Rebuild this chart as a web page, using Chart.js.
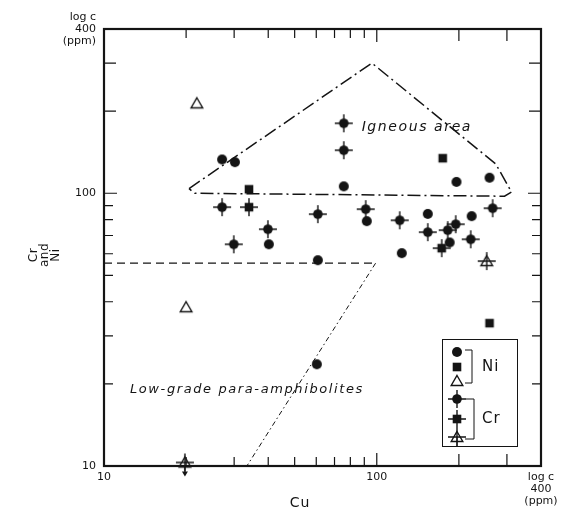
<!DOCTYPE html>
<html>
<head>
<meta charset="utf-8">
<script src="https://cdn.jsdelivr.net/npm/chart.js@4/dist/chart.umd.min.js"></script>
<style>
  html, body { margin: 0; padding: 0; background: #fff; }
  #wrap { width: 570px; height: 513px; }
</style>
</head>
<body>
<div id="wrap"><canvas id="chart" width="570" height="513"></canvas></div>
<script>
// Ni symbols (Cu ppm, Ni ppm)
const niCircleCu = [27.1, 30.2, 75.7, 196, 259, 91.9, 153.8, 222.8, 185, 123.5, 40.2, 60.8, 60.3];
const niCircleVal = [133, 130, 106, 110, 114, 79, 84, 82.4, 66, 60.3, 65, 56.8, 23.6];
const niSquareCu = [174.5, 34.0, 259];
const niSquareVal = [134.4, 103.4, 33.4];
const niTriCu = [21.9, 20.0];
const niTriVal = [213.6, 38.2];

// Cr symbols (Cu ppm, Cr ppm)
const crCircleCu = [75.7, 75.7, 27.1, 60.8, 91.1, 39.9, 29.9, 121.4, 153.8, 182, 194.7, 221, 266];
const crCircleVal = [180.5, 143.8, 88.9, 83.8, 87.4, 73.8, 65.0, 79.6, 72.0, 73.2, 77.0, 67.8, 88.1];
const crSquareCu = [34.0, 173];
const crSquareVal = [88.9, 62.9];
const crTriCu = [252.9, 19.8];
const crTriVal = [56.4, 10.3];

// field boundaries
const igneousCu = [20.5, 96, 273, 312, 294, 21.5, 20.5];
const igneousVal = [104, 300, 128, 101, 97.5, 100, 104];
const lowGradeCu = [10, 99];
const lowGradeVal = [55.4, 55.4];
const diagCu = [99, 33.4];
const diagVal = [55.4, 10];

// axis ticks
const majorTicks = [100];
const minorTicks = [20, 30, 40, 50, 60, 70, 80, 90, 200, 300];

const INK = '#141414';
const pts = (xs, ys) => xs.map((x, i) => ({ x: x, y: ys[i] }));

function symbol(shape, cross) {
    const c = document.createElement('canvas');
    c.width = c.height = 22;
    const g = c.getContext('2d');
    g.translate(11, 11);
    g.fillStyle = g.strokeStyle = INK;
    g.lineWidth = 1.4;
    if (cross) {
        g.beginPath();
        g.moveTo(-9, 0); g.lineTo(9, 0);
        g.moveTo(0, -9); g.lineTo(0, 9);
        g.stroke();
    }
    if (shape === 'circle') {
        g.beginPath();
        g.arc(0, 0, cross ? 4.8 : 5, 0, 2 * Math.PI);
        g.fill();
    } else if (shape === 'square') {
        g.fillRect(-4.3, -4.3, 8.6, 8.6);
    } else {
        g.beginPath();
        g.moveTo(0, -5.5); g.lineTo(5.8, 4.5); g.lineTo(-5.8, 4.5);
        g.closePath();
        if (!cross) { g.fillStyle = '#fff'; g.fill(); }
        g.stroke();
    }
    return c;
}

const sym = {
    niCircle: symbol('circle', false),
    niSquare: symbol('square', false),
    niTri: symbol('triangle', false),
    crCircle: symbol('circle', true),
    crSquare: symbol('square', true),
    crTri: symbol('triangle', true)
};

function pointSet(label, xs, ys, style) {
    return {
        label: label, data: pts(xs, ys), pointStyle: style,
        pointRadius: 5, showLine: false, clip: false
    };
}

function lineSet(label, xs, ys, dash, width) {
    return {
        label: label, data: pts(xs, ys), showLine: true, pointRadius: 0,
        borderColor: INK, borderWidth: width, borderDash: dash, tension: 0, clip: false
    };
}

const decor = {
    id: 'decor',
    afterDatasetsDraw(chart) {
        const ctx = chart.ctx;
        const a = chart.chartArea;
        const xs = chart.scales.x, ys = chart.scales.y;
        ctx.save();
        ctx.strokeStyle = INK;
        ctx.fillStyle = INK;

        // frame
        ctx.lineWidth = 2.2;
        ctx.strokeRect(a.left, a.top, a.right - a.left, a.bottom - a.top);

        // inward ticks on all sides
        ctx.lineWidth = 1.2;
        const tick = (v, len) => {
            const px = xs.getPixelForValue(v), py = ys.getPixelForValue(v);
            ctx.beginPath();
            ctx.moveTo(px, a.bottom); ctx.lineTo(px, a.bottom - len);
            ctx.moveTo(px, a.top); ctx.lineTo(px, a.top + len);
            ctx.moveTo(a.left, py); ctx.lineTo(a.left + len, py);
            ctx.moveTo(a.right, py); ctx.lineTo(a.right - len, py);
            ctx.stroke();
        };
        majorTicks.forEach(v => tick(v, 13));
        minorTicks.forEach(v => tick(v, v > 100 ? 12 : 9));

        // arrow: Cr value below detection limit
        const el = chart.getDatasetMeta(5).data[1];
        ctx.lineWidth = 1.2;
        ctx.beginPath();
        ctx.moveTo(el.x, el.y + 4); ctx.lineTo(el.x, el.y + 10);
        ctx.stroke();
        ctx.beginPath();
        ctx.moveTo(el.x - 3, el.y + 9); ctx.lineTo(el.x + 3, el.y + 9); ctx.lineTo(el.x, el.y + 14);
        ctx.closePath(); ctx.fill();

        // field names
        ctx.font = 'italic 14px "DejaVu Sans"';
        ctx.textBaseline = 'middle';
        ctx.textAlign = 'left';
        ctx.letterSpacing = '1.6px';
        ctx.fillText('Igneous area', xs.getPixelForValue(88), ys.getPixelForValue(174.5));
        ctx.font = 'italic 13px "DejaVu Sans"';
        ctx.letterSpacing = '1.6px';
        ctx.fillText('Low-grade para-amphibolites', xs.getPixelForValue(12.45), ys.getPixelForValue(19));

        // axis titles
        ctx.letterSpacing = '1px';
        ctx.font = '14px "DejaVu Sans"';
        ctx.textAlign = 'center';
        ctx.fillText('Cu', 300, 503);
        ctx.save();
        ctx.font = '12px "DejaVu Sans"';
        ctx.textBaseline = 'alphabetic';
        ctx.letterSpacing = '0.5px';
        ctx.translate(43, 255);
        ctx.rotate(-Math.PI / 2);
        ctx.fillText('Cr', 0, -6);
        ctx.fillText('and', 0, 5);
        ctx.fillText('Ni', 0, 16);
        ctx.restore();

        // legend box
        ctx.lineWidth = 1;
        ctx.strokeRect(442.5, 339.5, 75, 107);
        const lx = 457;
        [[sym.niCircle, 352], [sym.niSquare, 367], [sym.niTri, 381],
         [sym.crCircle, 399], [sym.crSquare, 419], [sym.crTri, 437]].forEach(s => {
            ctx.drawImage(s[0], lx - 11, s[1] - 11);
        });
        ctx.beginPath();
        ctx.moveTo(465, 350); ctx.lineTo(472, 350); ctx.lineTo(472, 383); ctx.lineTo(465, 383);
        ctx.moveTo(466, 399); ctx.lineTo(474, 399); ctx.lineTo(474, 439); ctx.lineTo(465, 439);
        ctx.stroke();
        ctx.beginPath();
        ctx.moveTo(lx, 446); ctx.lineTo(lx, 437);
        ctx.stroke();
        ctx.font = '15px "DejaVu Sans"';
        ctx.letterSpacing = '1px';
        ctx.textAlign = 'left';
        ctx.fillText('Ni', 482, 367);
        ctx.fillText('Cr', 482, 419);
        ctx.restore();
    }
};

function tickText(v) {
    if (v === 10) return '10';
    if (v === 100) return '100';
    if (v === 400) return ['log c', '400', '(ppm)'];
    return '';
}

function zeroPad(scale) {
    scale.paddingLeft = 0; scale.paddingRight = 0;
    scale.paddingTop = 0; scale.paddingBottom = 0;
}

new Chart(document.getElementById('chart'), {
    type: 'scatter',
    data: {
        datasets: [
            pointSet('Ni circle', niCircleCu, niCircleVal, sym.niCircle),
            pointSet('Ni square', niSquareCu, niSquareVal, sym.niSquare),
            pointSet('Ni triangle', niTriCu, niTriVal, sym.niTri),
            pointSet('Cr circle', crCircleCu, crCircleVal, sym.crCircle),
            pointSet('Cr square', crSquareCu, crSquareVal, sym.crSquare),
            pointSet('Cr triangle', crTriCu, crTriVal, sym.crTri),
            lineSet('Igneous area', igneousCu, igneousVal, [13, 4, 2, 4], 1.5),
            lineSet('Low-grade', lowGradeCu, lowGradeVal, [8, 5], 1.3),
            lineSet('Low-grade limit', diagCu, diagVal, [5, 3, 1.5, 3], 1)
        ]
    },
    options: {
        responsive: false,
        animation: false,
        events: [],
        layout: { padding: { left: 0, top: 29, right: 29, bottom: 0 }, autoPadding: false },
        plugins: { legend: { display: false }, tooltip: { enabled: false } },
        scales: {
            x: {
                type: 'logarithmic', min: 10, max: 400,
                grid: { display: false, drawTicks: false },
                border: { display: false },
                ticks: {
                    autoSkip: false, maxRotation: 0, padding: 5, color: INK,
                    font: { family: 'DejaVu Sans', size: 11, lineHeight: 1.1 },
                    callback: tickText
                },
                afterFit(scale) { scale.height = 47; zeroPad(scale); }
            },
            y: {
                type: 'logarithmic', min: 10, max: 400,
                grid: { display: false, drawTicks: false },
                border: { display: false },
                ticks: {
                    autoSkip: false, padding: 8, color: INK,
                    font: { family: 'DejaVu Sans', size: 11, lineHeight: 1.1 },
                    callback: tickText
                },
                afterFit(scale) { scale.width = 104; zeroPad(scale); }
            }
        }
    },
    plugins: [decor]
});
</script>
</body>
</html>
